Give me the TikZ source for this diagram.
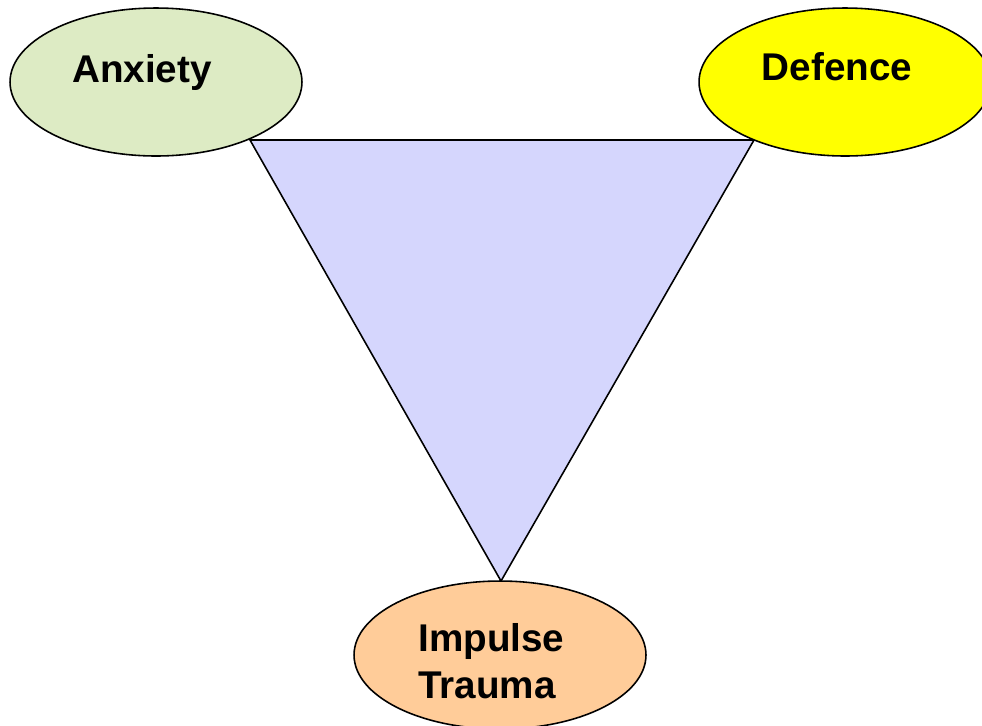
\documentclass[tikz,border=0pt]{standalone}
\usepackage{fontspec}
\setmainfont{Liberation Sans}
\usetikzlibrary{shapes.geometric}
\definecolor{anxgreen}{RGB}{221,235,196}
\definecolor{defyellow}{RGB}{255,255,0}
\definecolor{imppeach}{RGB}{255,204,153}
\definecolor{trilav}{RGB}{213,214,253}
\tikzset{
  bubble/.style={ellipse, draw=black, line width=0.9pt, minimum width=5.84cm, minimum height=2.96cm, inner sep=0pt},
  lbl/.style={font=\fontsize{22}{26.5}\selectfont\bfseries, inner sep=0pt},
}
\begin{document}
\begin{tikzpicture}[x=0.02cm,y=-0.02cm]
\useasboundingbox (0,0) rectangle (982,725);
\clip (0,0) rectangle (982,725);
%----------------------------------
\coordinate (tl) at (250,140);
\coordinate (tr) at (754,140);
\coordinate (tb) at (501,581);
\draw [fill=trilav, line width=0.9pt] (tl) -- (tr) -- (tb) -- cycle;
%----------------------------------
\node [bubble, fill=anxgreen] (anx) at (156,82) {};
\node [bubble, fill=defyellow] (def) at (845,82) {};
\node [bubble, fill=imppeach] (imp) at (500,655) {};
%----------------------------------
\node [lbl, anchor=base] (anxt) at ([shift={(-14,0)}]anx.center) {Anxiety};
\node [lbl, anchor=base] (deft) at ([shift={(-8,-2)}]def.center) {Defence};
\node [lbl, anchor=west, align=left] (impt) at ([shift={(-82,6)}]imp.center) {Impulse\\Trauma};
\end{tikzpicture}
\end{document}
